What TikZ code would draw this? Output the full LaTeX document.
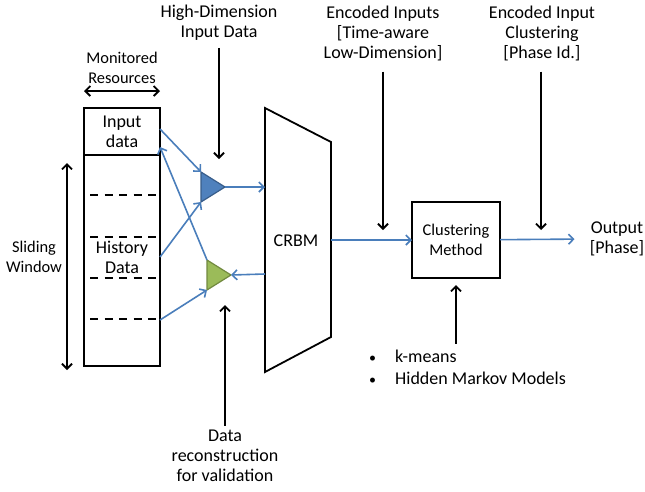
\documentclass[tikz,border=0pt]{standalone}
\usepackage{fontspec}
\setmainfont{Carlito}
\usetikzlibrary{arrows.meta, positioning}
\definecolor{azulLinea}{HTML}{4A7EBB}
\definecolor{azulRelleno}{HTML}{4F81BD}
\definecolor{azulBorde}{HTML}{385D8A}
\definecolor{verdeRelleno}{HTML}{9BBB59}
\definecolor{verdeBorde}{HTML}{71893F}
\colorlet{colGris}{black}
\tikzset{
  textoGrande/.style={align=center, inner sep=0pt, font=\fontsize{18}{20}\selectfont},
  textoChico/.style={align=center, inner sep=0pt, font=\fontsize{16.4}{20}\selectfont},
  celda/.style={draw=colGris, line width=1.8pt, outer sep=0pt, minimum width=76pt},
  cajaCluster/.style={celda, minimum width=88pt, minimum height=76pt},
  flecha/.style={-{Straight Barb[length=5pt, width=10pt]}, line width=1.8pt, colGris},
  flechaDoble/.style={{Straight Barb[length=5pt, width=10pt]}-{Straight Barb[length=5pt, width=10pt]},
    line width=1.8pt, colGris},
  flechaAzul/.style={-{Straight Barb[length=5pt, width=10pt]}, line width=1.6pt, azulLinea},
  separador/.style={line width=1.6pt, dash pattern=on 8pt off 6.5pt},
  triAzul/.style={fill=azulRelleno, draw=azulBorde, line width=1.2pt, line join=round},
  triVerde/.style={fill=verdeRelleno, draw=verdeBorde, line width=1.2pt, line join=round},
}
\begin{document}
\begin{tikzpicture}[x=1pt, y=-1pt]
    \useasboundingbox (0,0) rectangle (645,491);

    % ventana de datos
    \node[celda, minimum height=47pt, textoGrande] (inp) at (122,131.5) {Input\\data};
    \node[celda, minimum height=211pt, below=0pt of inp] (hist) {};
    \node[textoGrande] (hdat) at ([yshift=3pt]hist.center) {History\\Data};
    \foreach \y in {195,237,278,319}
      \draw[separador] (90,\y) -- (156,\y);

    \node[textoChico] (mon) at (122,67.5) {Monitored\\Resources};
    \draw[flechaDoble] ([yshift=17pt]inp.north west) -- ([yshift=17pt]inp.north east);

    \node[textoChico] (vtn) at (34,257) {Sliding\\Window};
    \coordinate (vtnSup) at (67,163);
    \coordinate (vtnInf) at (67,370);
    \draw[flechaDoble] (vtnSup) -- (vtnInf);

    % triangulos
    \draw[triAzul] (201,172) coordinate (btSup) -- (225,187) coordinate (btPunta)
      -- (201,202) coordinate (btInf) -- cycle;
    \draw[triVerde] (207,260) coordinate (gtSup) -- (231,275) coordinate (gtPunta)
      -- (207,290) coordinate (gtInf) -- cycle;
    \coordinate (btTope) at (219,159);
    \coordinate (gtBajo) at (225,305);

    % CRBM
    \draw[line width=1.8pt, line join=miter] (265,108) -- (331,142) -- (331,337) -- (265,372) -- cycle;
    \node[textoGrande] (crbm) at (296,241) {CRBM};
    \coordinate (crbmEnt) at (265,187);
    \coordinate (crbmSal) at (265,274);
    \coordinate (crbmDer) at (331,240);

    \node[cajaCluster, textoChico] (clu) at (456,240) {Clustering\\Method};
    \node[textoGrande] (sal) at (617,239) {Output\\{[Phase]}};

    \draw[flechaAzul] ([yshift=2.5pt]inp.east) -- (btSup);
    \draw[flechaAzul] ([yshift=-102pt]hist.north east) -- (btInf);
    \draw[flechaAzul] (gtSup) -- ([yshift=-15.5pt]inp.east);
    \draw[flechaAzul] ([yshift=-165pt]hist.north east) -- (gtInf);
    \draw[flechaAzul] (btPunta) -- (crbmEnt);
    \draw[flechaAzul] (crbmSal) -- (gtPunta);
    \draw[flechaAzul] (crbmDer) -- (clu);
    \draw[flechaAzul, shorten >=15pt] (clu) -- (sal.west);

    % etiquetas superiores
    \node[textoGrande] (hd) at (219,23) {High-Dimension\\Input Data};
    \node[textoGrande] (enc) at (383,33) {Encoded Inputs\\{[Time-aware}\\Low-Dimension]};
    \node[textoGrande] (ecl) at (542,33) {Encoded Input\\Clustering\\{[Phase Id.]}};
    \coordinate (encFin) at (383,230);
    \coordinate (eclFin) at (541,230);
    \draw[flecha, shorten <=7pt] (hd.south) -- (btTope);
    \draw[flecha, shorten <=11pt] (enc.south) -- (encFin);
    \draw[flecha, shorten <=11pt] (ecl.south -| eclFin) -- (eclFin);

    % etiquetas inferiores
    \node[anchor=west, inner sep=0pt, font=\fontsize{18}{22}\selectfont] (alg) at (369,369)
      {\begin{tabular}{@{}l@{\hspace{19pt}}l@{}}{\fontsize{14}{14}\selectfont\textbullet} & k-means\\
       {\fontsize{14}{14}\selectfont\textbullet} & Hidden Markov Models\end{tabular}};
    \draw[flecha, shorten <=3pt, shorten >=7pt] (clu.south |- alg.north) -- (clu.south);

    \node[textoGrande] (rec) at (225,456) {Data\\reconstruction\\for validation};
    \draw[flecha, shorten <=4pt] (rec.north) -- (gtBajo);
\end{tikzpicture}
\end{document}
